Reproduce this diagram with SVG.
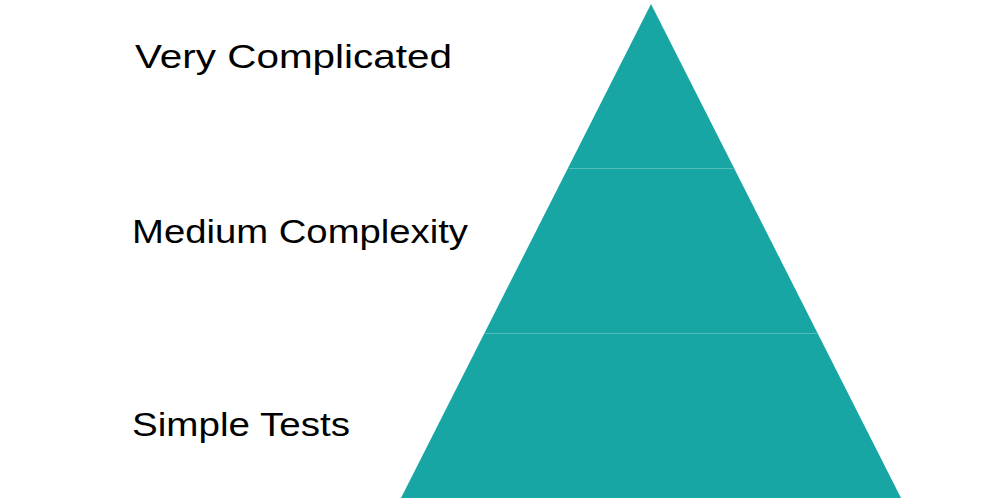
<svg xmlns="http://www.w3.org/2000/svg" width="1000" height="500" viewBox="0 0 1000 500">
<style>
.lbl{font-family:"Liberation Sans",Arial,Helvetica,sans-serif;font-size:34px;fill:#000}
.tier{fill:#18A6A4}
.sep{stroke:#52BDBB;stroke-width:1}
</style>
<rect width="1000" height="500" fill="#fff"/>
<g id="tier-top"><polygon class="tier" points="651,4 734,168 568,168"/></g>
<g id="tier-middle"><polygon class="tier" points="568,168 734,168 817.5,333 484.5,333"/></g>
<g id="tier-bottom"><polygon class="tier" points="484.5,333 817.5,333 901,498 401,498"/></g>
<g id="separators">
<line class="sep" x1="569" y1="168.5" x2="733" y2="168.5"/>
<line class="sep" x1="485" y1="333.5" x2="817" y2="333.5"/>
</g>
<g id="labels">
<text class="lbl" x="135" y="68" textLength="317" lengthAdjust="spacingAndGlyphs">Very Complicated</text>
<text class="lbl" x="132" y="243" textLength="336" lengthAdjust="spacingAndGlyphs">Medium Complexity</text>
<text class="lbl" x="132" y="436" textLength="218" lengthAdjust="spacingAndGlyphs">Simple Tests</text>
</g>
</svg>
